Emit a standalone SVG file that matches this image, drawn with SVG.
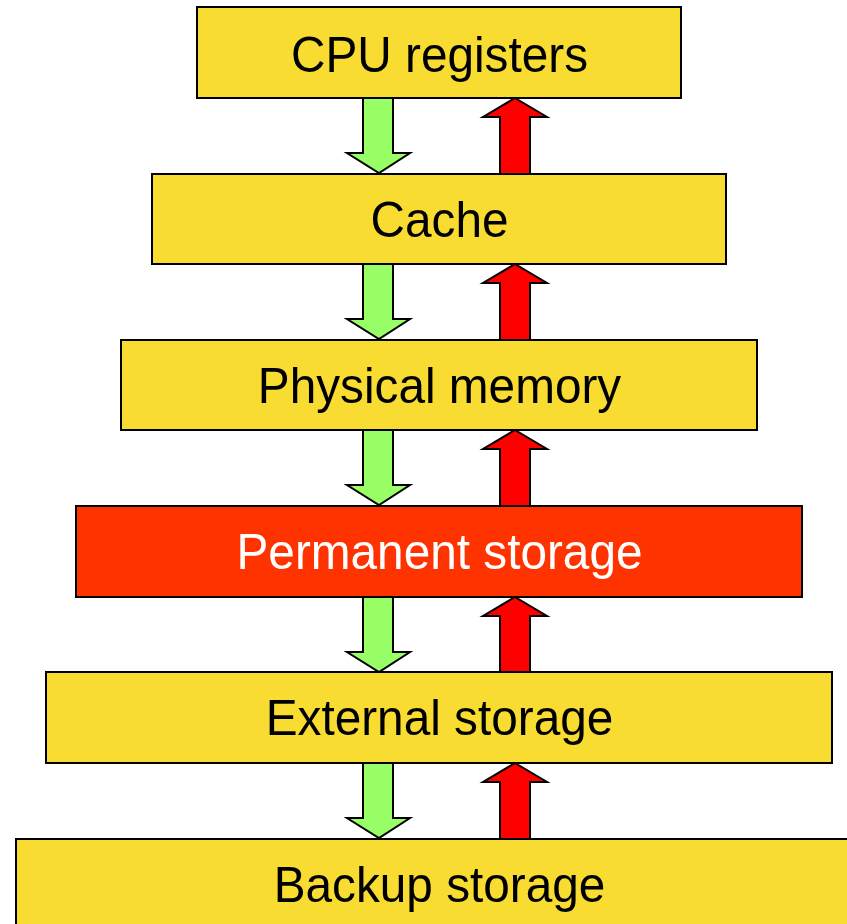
<svg xmlns="http://www.w3.org/2000/svg" width="847" height="924" viewBox="0 0 847 924">
  <style>
    .box { fill: #F8DC32; stroke: #000; stroke-width: 2; }
    .hot { fill: #FF3300; stroke: #000; stroke-width: 2; }
    .label { font-family: "Liberation Sans", Arial, sans-serif; font-size: 50px; text-anchor: middle; fill: #000; }
    .label-light { fill: #FFF; }
    .down { fill: #99FF66; stroke: #000; stroke-width: 2; stroke-linejoin: miter; }
    .up { fill: #FF0000; stroke: #000; stroke-width: 2; stroke-linejoin: miter; }
  </style>
  <defs>
    <!-- arrows span the 76px gap between two levels; origin = bottom edge of the upper box -->
    <path id="arrow-down" d="M363,0 H393 V55 H410 L379,75 L347,55 H363 Z"/>
    <path id="arrow-up" d="M515,0 L547,19 H530 V76 H500 V19 H483 Z"/>
  </defs>
  <rect width="847" height="924" fill="#FFF"/>

  <g id="connectors">
    <use href="#arrow-down" class="down" y="98"/>
    <use href="#arrow-up" class="up" y="98"/>
    <use href="#arrow-down" class="down" y="264"/>
    <use href="#arrow-up" class="up" y="264"/>
    <use href="#arrow-down" class="down" y="430"/>
    <use href="#arrow-up" class="up" y="430"/>
    <use href="#arrow-down" class="down" y="597"/>
    <use href="#arrow-up" class="up" y="597"/>
    <use href="#arrow-down" class="down" y="763"/>
    <use href="#arrow-up" class="up" y="763"/>
  </g>

  <!-- labels are set slightly condensed: 50px type squeezed to 95.5% width -->
  <g id="cpu-registers">
    <rect class="box" x="197" y="7" width="484" height="91"/>
    <text class="label" transform="translate(439.5 72) scale(0.955 1)">CPU registers</text>
  </g>
  <g id="cache">
    <rect class="box" x="152" y="174" width="574" height="90"/>
    <text class="label" transform="translate(439.5 237) scale(0.955 1)">Cache</text>
  </g>
  <g id="physical-memory">
    <rect class="box" x="121" y="340" width="636" height="90"/>
    <text class="label" transform="translate(439.5 403) scale(0.955 1)">Physical memory</text>
  </g>
  <g id="permanent-storage">
    <rect class="hot" x="76" y="506" width="726" height="91"/>
    <text class="label label-light" transform="translate(439.5 569) scale(0.955 1)">Permanent storage</text>
  </g>
  <g id="external-storage">
    <rect class="box" x="46" y="672" width="786" height="91"/>
    <text class="label" transform="translate(439.5 735) scale(0.955 1)">External storage</text>
  </g>
  <g id="backup-storage">
    <rect class="box" x="16" y="839" width="848" height="100"/>
    <text class="label" transform="translate(439.5 902) scale(0.955 1)">Backup storage</text>
  </g>
</svg>
